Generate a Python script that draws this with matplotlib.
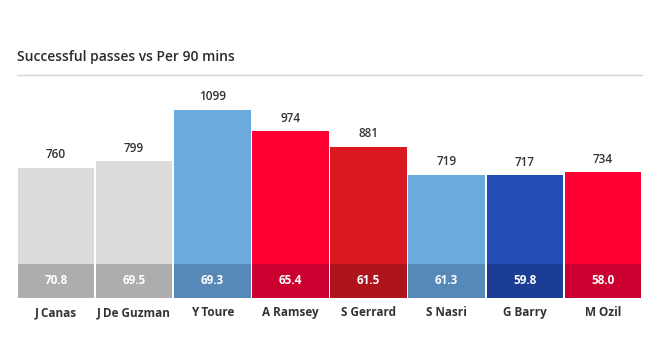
import matplotlib
matplotlib.use("Agg")
import matplotlib.pyplot as plt

players = ["J Canas", "J De Guzman", "Y Toure", "A Ramsey", "S Gerrard", "S Nasri", "G Barry", "M Ozil"]
passes = [760, 799, 1099, 974, 881, 719, 717, 734]
per90 = [70.8, 69.5, 69.3, 65.4, 61.5, 61.3, 59.8, 58.0]
colors = ["#DCDCDC", "#DCDCDC", "#6AAADC", "#FF0033", "#D9181F", "#6AAADC", "#214DB5", "#FF0033"]
band_colors = ["#ADADB0", "#ADADB0", "#5689B8", "#CC0030", "#AE141B", "#5689B8", "#1B3D93", "#CC0030"]
band_height = 199

plt.rcParams['font.family'] = ['Open Sans', 'DejaVu Sans']

fig = plt.figure(figsize=(6.6, 3.5), dpi=100)
ax = fig.add_axes([17/660, 1 - 298/350, 625/660, 223/350])
x = list(range(len(players)))
ax.bar(x, passes, width=0.98, color=colors, edgecolor='none')
ax.bar(x, [band_height]*len(x), width=0.98, color=band_colors, edgecolor='none')
for i in x:
    ax.text(i, passes[i] + 40, f"{passes[i]}", ha='center', va='bottom', fontsize=8.5,
            color='#333333', fontweight='semibold')
    ax.text(i, band_height/2, f"{per90[i]:.1f}", ha='center', va='center', fontsize=8.5,
            color='white', fontweight='bold')
ax.set_xlim(-0.5, len(players) - 0.5)
ax.set_ylim(0, 1304)
ax.set_xticks(x)
ax.set_xticklabels(players, fontsize=8.5, color='#333333', fontweight='bold')
ax.tick_params(axis='x', length=0, pad=6)
ax.set_yticks([])
for s in ['left', 'right', 'bottom']:
    ax.spines[s].set_visible(False)
ax.spines['top'].set_color('#D5D5D5')
ax.spines['top'].set_linewidth(1)

fig.text(17/660, 1 - 57/350, "Successful passes vs Per 90 mins", fontsize=10,
         color='#2B2B2B', ha='left', va='center', fontweight='semibold')

fig.savefig("out.png", dpi=100)
